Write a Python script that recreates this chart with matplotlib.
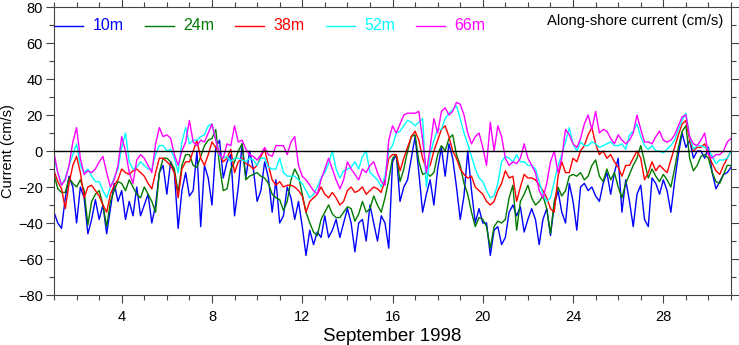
import numpy as np
import matplotlib
matplotlib.use("Agg")
import matplotlib.pyplot as plt
from matplotlib.ticker import MultipleLocator

plt.rcParams['font.family'] = ['Liberation Sans', 'DejaVu Sans']

# 4-hourly samples, 1 Sep 00:00 to 1 Oct 00:00 (day-of-month axis)
steps_per_day = 6
days = 1 + np.arange(30 * steps_per_day + 1) / steps_per_day

depth_labels = ["10m", "24m", "38m", "52m", "66m"]
depth_colors = ["#0000ff", "#007a00", "#ff0000", "#00ffff", "#ff00ff"]

# Along-shore current (cm/s), one row per day (00,04,08,12,16,20 h)
v10 = [
    -34, -40, -43, -26, -14, -20,
    -40, -20, -26, -46, -38, -27,
    -38, -30, -46, -32, -18, -28,
    -22, -38, -28, -36, -20, -36,
    -30, -24, -40, -30, -12, -8,
    -24, -6, -12, -43, -22, -12,
    -25, -22, 0, -42, -8, -15,
    -30, 2, 6, -15, -6, -2,
    -36, -20, 4, -15, 0, -10,
    -28, -22, -6, -15, -34, -16,
    -40, -36, -20, -26, -38, -28,
    -42, -58, -44, -52, -45, -48,
    -36, -48, -44, -38, -48, -40,
    -32, -40, -56, -40, -38, -50,
    -30, -40, -50, -36, -40, -54,
    -6, -2, -28, -20, -16, -4,
    8, -12, -34, -24, -16, -30,
    -10, 2, -14, 4, -4, -20,
    -38, -25, 0, -22, -40, -32,
    -40, -40, -58, -44, -42, -52,
    -48, -34, -30, -36, -31, -45,
    -38, -32, -38, -52, -38, -32,
    -47, -30, -22, -34, -40, -18,
    -28, -44, -20, -18, -22, -20,
    -25, -28, -18, -12, -24, -12,
    -4, -34, -16, -28, -42, -24,
    -19, -38, -42, -15, -18, -24,
    -16, -22, -34, -17, -2, 10,
    2, 6, -4, 0, 0, -4,
    2, -12, -21, -17, -13, -12,
    -9,
]

v24 = [
    -13, -21, -23, -23, -15, -18,
    -20, -16, -22, -41, -28, -24,
    -22, -30, -42, -28, -22, -17,
    -18, -22, -16, -20, -24, -26,
    -20, -24, -28, -34, -12, -4,
    -4, -6, -10, -23, -8, -2,
    -2, -8, -9, -3, 3, 6,
    7, 12, -8, -22, -21, -10,
    -6, 0, 4, -16, -14, -13,
    -12, -14, -15, -18, -24, -26,
    -27, -33, -28, -16, -10, -14,
    -24, -34, -40, -45, -47, -38,
    -34, -30, -35, -37, -37, -34,
    -31, -32, -39, -35, -28, -34,
    -32, -25, -30, -34, -26, -16,
    -4, -2, -17, -10, 0, 8,
    9, -6, -13, -12, -14, -12,
    -2, 3, 0, 7, 9, -2,
    -8, -18, -24, -34, -42, -37,
    -38, -42, -54, -42, -39, -40,
    -38, -26, -19, -44, -28, -24,
    -19, -26, -30, -28, -25, -32,
    -46, -28, -20, -25, -22, -14,
    -13, -14, -12, -16, -14, -8,
    -5, -14, -17, -10, -16, -12,
    -20, -26, -18, -13, -8, -4,
    3, -6, -15, -10, -14, -17,
    -13, -16, -20, -10, 2, 11,
    14, -4, -11, -8, -3, -2,
    -4, -12, -17, -18, -13, -8,
    -8,
]

v38 = [
    -11, -17, -21, -32, -18, -8,
    -3, -12, -26, -20, -19, -22,
    -25, -30, -34, -24, -19, -16,
    -10, -12, -13, -11, -10, -12,
    -14, -18, -21, -12, -4, -4,
    -6, -8, -12, -26, -10, -6,
    -6, 0, 6, -4, -8, -2,
    5, 2, -2, -6, -4, 1,
    -12, -6, -4, -7, -8, -10,
    -8, -3, 1, -8, -16, -19,
    -17, -20, -19, -19, -20, -22,
    -25, -34, -28, -26, -24, -20,
    -24, -26, -23, -26, -30, -28,
    -22, -20, -23, -22, -20, -24,
    -22, -20, -21, -23, -16, -4,
    -2, -2, -11, -4, 2, 8,
    11, 6, -4, -10, -8, 0,
    6, 12, 14, 8, 0, -4,
    -10, -13, -15, -14, -20, -22,
    -24, -28, -30, -28, -22, -18,
    -11, -15, -14, -28, -20, -13,
    -15, -15, -16, -19, -22, -26,
    -32, -34, -14, -6, -12, -12,
    -4, -6, 0, 3, 9, 13,
    4, -2, 0, -4, -2, -6,
    -9, -14, -8, -8, -4, 0,
    -4, -16, -12, -6, -11, -8,
    -10, -12, -5, 2, 9, 15,
    17, 6, 0, 2, 2, 4,
    -2, -7, -11, -13, -8, -4,
    0,
]

v52 = [
    -4, -12, -19, -15, -8, -2,
    4, -8, -12, -10, -14, -17,
    -17, -22, -26, -20, -15, -10,
    2, 10, -6, -10, -9, -6,
    -8, -10, -10, -2, 3, 3,
    0, 1, -4, -12, 5, 13,
    4, 6, 6, 8, 9, 14,
    15, 6, -3, -4, -3, -6,
    -4, -4, -5, -6, -4, -5,
    -8, -4, -4, -9, -10, -10,
    -4, -12, -14, -14, -14, -16,
    -18, -22, -26, -24, -20, -15,
    -12, -7, 0, -10, -15, -11,
    -10, -9, -6, -10, -3, 0,
    -12, -14, -16, -20, -14, 0,
    3, 10, 11, 14, 17, 16,
    14, 16, 18, -20, -2, 6,
    12, 12, 18, 21, 23, 25,
    18, 10, 4, -3, -10, -15,
    -17, -22, -26, -25, -18, -6,
    -3, -4, -6, -2, -6, -6,
    -8, -8, -10, -17, -24, -28,
    -26, -17, -8, -2, 5, 13,
    4, 0, 5, 3, 3, 5,
    4, 2, 3, 4, 5, 3,
    3, 4, 1, 9, 11, 15,
    8, 3, 1, 3, 0, 0,
    -1, 1, 3, 6, 12, 17,
    21, 8, 1, 3, 3, 2,
    1, -3, -7, -5, -5, -4,
    0,
]

v66 = [
    -1, -12, -19, -16, -8, 5,
    13, -4, -13, -11, -12, -10,
    -6, -3, -12, -20, -16, -8,
    8, 0, -12, -18, -5, -2,
    -4, -8, -12, 4, 13, 8,
    9, 7, -2, -8, 0, 5,
    17, 5, 3, 6, 5, 10,
    15, 6, -2, -4, 4, 3,
    14, 5, 6, 1, -2, -3,
    -5, -2, 2, -2, -3, 3,
    3, 3, -2, 5, 8, -8,
    -14, -16, -19, -22, -24, -16,
    -10, -4, -10, -16, -21, -16,
    -6, -10, -13, -16, -10, -12,
    -8, -6, -12, -17, -19, 6,
    14, 10, 15, 20, 21, 21,
    21, 22, 6, -12, 2, 18,
    10, 22, 24, 20, 22, 27,
    26, 20, 10, 4, 8, 10,
    2, -8, 16, 0, 14, 8,
    -4, -8, -6, -7, -4, 4,
    -4, -8, -12, -22, -26, -18,
    -6, 0, -12, -4, 12, 9,
    4, 2, 7, 15, 20, 12,
    22, 10, 12, 11, 7, 4,
    9, 6, 4, 6, 10, 20,
    12, 5, 5, 4, 8, 11,
    6, 5, 6, 9, 14, 19,
    20, 8, 4, 3, 6, 10,
    -2, -4, -2, -2, 0, 5,
    7,
]

series = [v10, v24, v38, v52, v66]

fig = plt.figure(figsize=(7.39, 3.45), dpi=100)
ax = fig.add_axes([0.0731, 0.1449, 0.9161, 0.8348])

for vals, col in zip(series, depth_colors):
    ax.plot(days, vals, color=col, lw=1.0, solid_joinstyle='round')

ax.axhline(0, color='black', lw=1.0, zorder=5)

ax.set_xlim(1, 31)
ax.set_ylim(-80, 80)
ax.xaxis.set_major_locator(MultipleLocator(4))
ax.xaxis.set_minor_locator(MultipleLocator(1))
ax.yaxis.set_major_locator(MultipleLocator(20))
ax.yaxis.set_minor_locator(MultipleLocator(10))
ax.tick_params(which='both', direction='out', top=True, right=True,
               labeltop=False, labelright=False, color='#444444', width=0.8)
ax.tick_params(which='major', length=6, labelsize=10.5)
ax.tick_params(axis='x', which='major', pad=5)
ax.tick_params(axis='y', which='major', pad=2)
ax.tick_params(which='minor', length=3.5)
for sp in ax.spines.values():
    sp.set_color('#444444')
    sp.set_linewidth(0.8)

ax.set_ylabel("Current (cm/s)", fontsize=10.5, labelpad=2)
ax.set_xlabel("September 1998", fontsize=13.5, labelpad=3)

# inline legend along the top of the panel
leg_y = 0.935
step = 0.1337
for i, (lab, col) in enumerate(zip(depth_labels, depth_colors)):
    x0 = i * step
    ax.plot([x0, x0 + 0.043], [leg_y, leg_y], color=col, lw=1.0,
            transform=ax.transAxes, clip_on=False)
    ax.text(x0 + 0.057, leg_y, lab, color=col, fontsize=11.5,
            va='center', ha='left', transform=ax.transAxes)

ax.text(0.989, 0.952, "Along-shore current (cm/s)", fontsize=10.7,
        ha='right', va='center', transform=ax.transAxes)

fig.savefig("out.png", dpi=100)
